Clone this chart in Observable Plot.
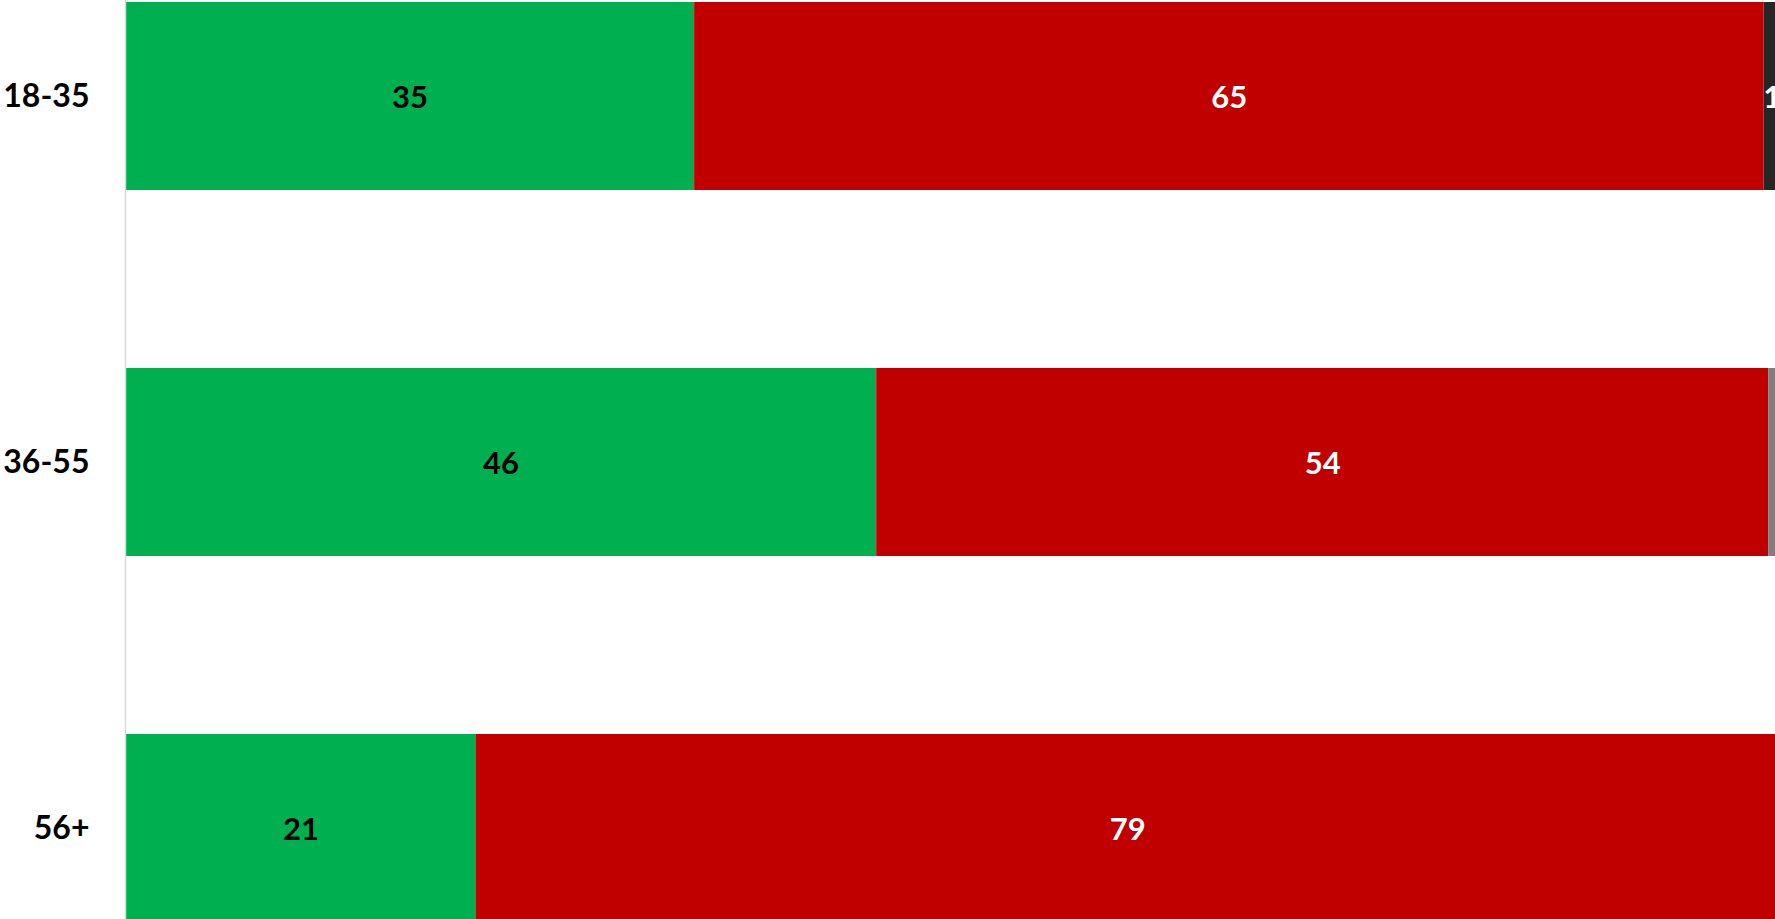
<!DOCTYPE html>
<html>
<head>
<meta charset="utf-8">
<script src="https://cdn.jsdelivr.net/npm/d3@7"></script>
<script src="https://cdn.jsdelivr.net/npm/@observablehq/plot@0.6"></script>
<style>
  html, body { margin: 0; padding: 0; background: #fff; overflow: hidden; }
  #chart svg { display: block; }
</style>
</head>
<body>
<div id="chart"></div>
<script>
// Data
const ages = ["18-35", "36-55", "56+"];
const categories = ["Yes", "No", "Other"];
const yesValues = [34.7, 45.8, 21.4];
const noValues = [65.2, 54.4, 79.4];
const otherValues = [1.0, 3.0, 0];
const colors = ["#00B050", "#C00000", "#262626"];
const otherColors = ["#262626", "#7F7F7F", "#7F7F7F"];

const series = [yesValues, noValues, otherValues];
const rows = [];
ages.forEach((age, i) => {
  categories.forEach((cat, j) => {
    const v = series[j][i];
    if (v > 0) {
      rows.push({age, cat, key: cat === "Other" ? "Other" + i : cat, value: v, color: cat === "Other" ? otherColors[i] : colors[j]});
    }
  });
});

const fillDomain = rows.map(d => d.key).filter((k, i, a) => a.indexOf(k) === i);
const fillRange = fillDomain.map(k => rows.find(r => r.key === k).color);

const plot = Plot.plot({
  width: 1775,
  height: 919,
  marginLeft: 125,
  marginRight: 0,
  marginTop: 0,
  marginBottom: 0,
  style: {fontFamily: "Lato, 'Open Sans', sans-serif", background: "#fff"},
  x: {domain: [0, 100.6], axis: null},
  y: {domain: ages, range: [1, 922], paddingInner: 0.487, paddingOuter: 0, label: null},
  color: {domain: fillDomain, range: fillRange},
  marks: [
    Plot.barX(rows, Plot.stackX({y: "age", x: "value", fill: "key", z: "cat", order: categories.concat(), inset: 0})),
    Plot.textX(rows, Plot.stackX({y: "age", x: "value", z: "cat", order: categories.concat(),
      text: d => d.cat === "Yes" ? String(Math.round(d.value)) : "",
      fill: "black", fontSize: 31, fontWeight: "bold", dy: 2})),
    Plot.textX(rows, Plot.stackX({y: "age", x: "value", z: "cat", order: categories.concat(),
      text: d => d.cat !== "Yes" ? String(Math.round(d.value)) : "",
      fill: "white", fontSize: 31, fontWeight: "bold", dy: 2})),
    Plot.ruleX([0], {stroke: "#d9d9d9", strokeWidth: 1.5}),
    Plot.axisY({tickSize: 0, tickPadding: 36, fontSize: 32, fontWeight: "bold", fill: "black", label: null})
  ]
});
document.getElementById("chart").appendChild(plot);
</script>
</body>
</html>
